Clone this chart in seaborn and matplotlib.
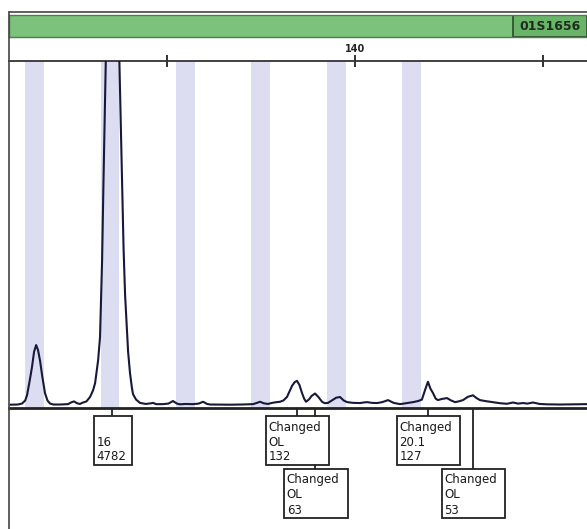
import numpy as np
import pandas as pd
import seaborn as sns
import matplotlib.pyplot as plt
from matplotlib.patches import Rectangle
from matplotlib.lines import Line2D

# ---- data -------------------------------------------------------------
marker_name = "01S1656"

# allele bin centres (bp)
bin_bp = [123, 127, 131, 135, 139, 143]

# size ruler
ruler_ticks = [130, 140, 150]
ruler_labels = ["", "140", ""]

# called peaks: size (bp), height (RFU), label lines, row of the label box
call_bp = [127.11, 136.92, 137.88, 143.87, 146.26]
call_rfu = [4782, 132, 63, 127, 53]
call_text = [["", "16", "4782"],
             ["Changed", "OL", "132"],
             ["Changed", "OL", "63"],
             ["Changed", "20.1", "127"],
             ["Changed", "OL", "53"]]
call_row = [0, 0, 1, 0, 1]

# sampled trace (bp, RFU), apexes of called peaks come from the call table
trace_bp = [121.70, 122.10, 122.33, 122.50, 122.60, 122.75, 122.86, 122.97, 123.08,
            123.18, 123.29, 123.40, 123.55, 123.68, 123.82, 124.00, 124.35, 124.77,
            124.93, 125.09, 125.25, 125.41, 125.52, 125.75, 125.94, 126.10, 126.21,
            126.37, 126.47, 126.58, 126.65, 126.79, 126.95,
            127.28, 127.48, 127.64, 127.72, 127.80, 127.90, 127.96, 128.06, 128.16,
            128.22, 128.38, 128.59, 128.90, 129.20, 129.28, 129.45, 129.81, 130.10,
            130.34, 130.55, 130.72, 131.00, 131.41, 131.70, 131.94, 132.15, 132.31,
            133.37, 134.00, 134.59, 134.80, 134.96, 135.15, 135.38, 135.60, 135.85,
            136.02, 136.20, 136.39, 136.55, 136.66, 136.80,
            137.05, 137.19, 137.30, 137.40, 137.55, 137.70,
            138.05, 138.25, 138.40, 138.57, 138.85, 139.00, 139.20, 139.40, 139.58,
            139.90, 140.27, 140.45, 140.64, 140.90, 141.17, 141.45, 141.75, 142.05,
            142.39, 142.70, 143.08, 143.35, 143.55, 143.71,
            144.00, 144.14, 144.28, 144.40, 144.60, 144.88, 145.10, 145.31, 145.50,
            145.73, 145.99,
            146.45, 146.63, 146.90, 147.32, 147.70, 148.06, 148.38, 148.65, 148.91,
            149.15, 149.44, 149.80, 150.19, 150.88, 151.50, 152.31]
trace_rfu = [2, 3, 8, 25, 55, 140, 207, 290, 327,
             300, 240, 160, 65, 25, 8, 3, 3, 5,
             14, 20, 10, 6, 12, 20, 44, 80, 120,
             245, 370, 790, 1200, 1950, 3600,
             3600, 1950, 1230, 850, 600, 400, 290, 175, 95,
             60, 30, 12, 6, 10, 12, 5, 5, 8,
             22, 8, 4, 6, 5, 8, 18, 6, 3,
             2, 3, 5, 12, 18, 10, 6, 12, 16,
             18, 25, 44, 80, 105, 125,
             110, 65, 35, 18, 30, 50,
             45, 18, 10, 12, 30, 40, 44, 25, 16,
             12, 11, 14, 16, 12, 11, 16, 27, 12,
             5, 10, 16, 22, 30, 80,
             90, 65, 35, 27, 33, 38, 25, 16, 20,
             27, 45,
             38, 27, 22, 16, 10, 7, 14, 8, 11,
             8, 14, 6, 4, 3, 4, 5]

# ---- figure -----------------------------------------------------------
W, H = 587, 529
XLIM = (121.64, 152.31)
YLIM = (-16, 1875)

sns.set_theme(style="white")
plt.rcParams['font.family'] = ['DejaVu Sans']

fig = plt.figure(figsize=(W / 100, H / 100), dpi=100)
fig.patch.set_facecolor("white")


def fx(px):
    return px / W


def fy(py):
    return 1 - py / H


# electropherogram panel
ax = fig.add_axes([fx(9), fy(408), fx(578), (408 - 61) / H])
for b in bin_bp:
    ax.axvspan(b - 0.5, b + 0.5, color="#dcddf0", lw=0, zorder=0)

trace = pd.DataFrame({"size": trace_bp + call_bp, "rfu": trace_rfu + call_rfu})
trace = trace.sort_values("size")
sns.lineplot(data=trace, x="size", y="rfu", ax=ax, estimator=None,
             color="#18183a", lw=1.5, zorder=3)

ax.set_xlim(*XLIM)
ax.set_ylim(*YLIM)
ax.set_xlabel("")
ax.set_ylabel("")
ax.set_yticks([])
ax.xaxis.set_ticks_position("top")
ax.set_xticks(ruler_ticks)
ax.set_xticklabels(ruler_labels)
ax.tick_params(axis="x", direction="inout", length=8, width=1.3,
               colors="#222222", labelsize=7, pad=1)
for lab in ax.get_xticklabels():
    lab.set_fontweight("bold")
ax.spines["right"].set_visible(False)
ax.spines["left"].set_visible(False)
ax.spines["top"].set_color("#333333")
ax.spines["top"].set_linewidth(1.3)
ax.spines["bottom"].set_color("#222222")
ax.spines["bottom"].set_linewidth(2.0)

# marker bar
axb = fig.add_axes([fx(9), fy(37), fx(578), 22 / H])
axb.set_facecolor("#7cc27c")
axb.set_xticks([])
axb.set_yticks([])
for s in axb.spines.values():
    s.set_color("#4d7d4d")
    s.set_linewidth(1.0)
x0 = (513 - 9) / 578
axb.add_patch(Rectangle((x0, 0), 1 - x0, 1, transform=axb.transAxes,
                        facecolor="#6ab46a", edgecolor="#2a4a2a", lw=1.2))
axb.text((x0 + 1) / 2, 0.5, marker_name, transform=axb.transAxes,
         ha="center", va="center", fontsize=9, fontweight="bold", color="#1d2d1d")

# outer frame
fig.add_artist(Line2D([fx(9), fx(9)], [fy(12), 0], color="#444444", lw=1.2))
fig.add_artist(Line2D([fx(9), 1], [fy(12), fy(12)], color="#444444", lw=1.2))

# allele call boxes
axl = fig.add_axes([fx(9), 0, fx(578), 121 / H])
axl.set_xlim(*XLIM)
axl.set_ylim(121, 0)
axl.axis("off")

BOX_H = 49
row_top = [8, 61]
boxes0 = []
for bp, lines, row in zip(call_bp, call_text, call_row):
    w = 3.35 if lines[0] else 2.0
    left = bp - w / 2 + 0.05
    top = row_top[row]
    if row == 0:
        boxes0.append((left, left + w))
        axl.plot([bp, bp], [0, top], color="#222222", lw=1.3)
    else:
        inside = any(a <= bp <= b for a, b in boxes0)
        if inside:
            axl.plot([bp, bp], [0, row_top[0]], color="#222222", lw=1.3)
            axl.plot([bp, bp], [row_top[0] + BOX_H, top], color="#222222", lw=1.3)
        else:
            axl.plot([bp, bp], [0, top], color="#222222", lw=1.3)
    axl.add_patch(Rectangle((left, top), w, BOX_H, facecolor="white",
                            edgecolor="#222222", lw=1.3, zorder=2))
    for i, t in enumerate(lines):
        axl.text(left + 0.12, top + 11 + 15 * i, t, ha="left", va="center",
                 fontsize=8.5, color="#1a1a1a", zorder=3)

fig.savefig("out.png", dpi=100)
